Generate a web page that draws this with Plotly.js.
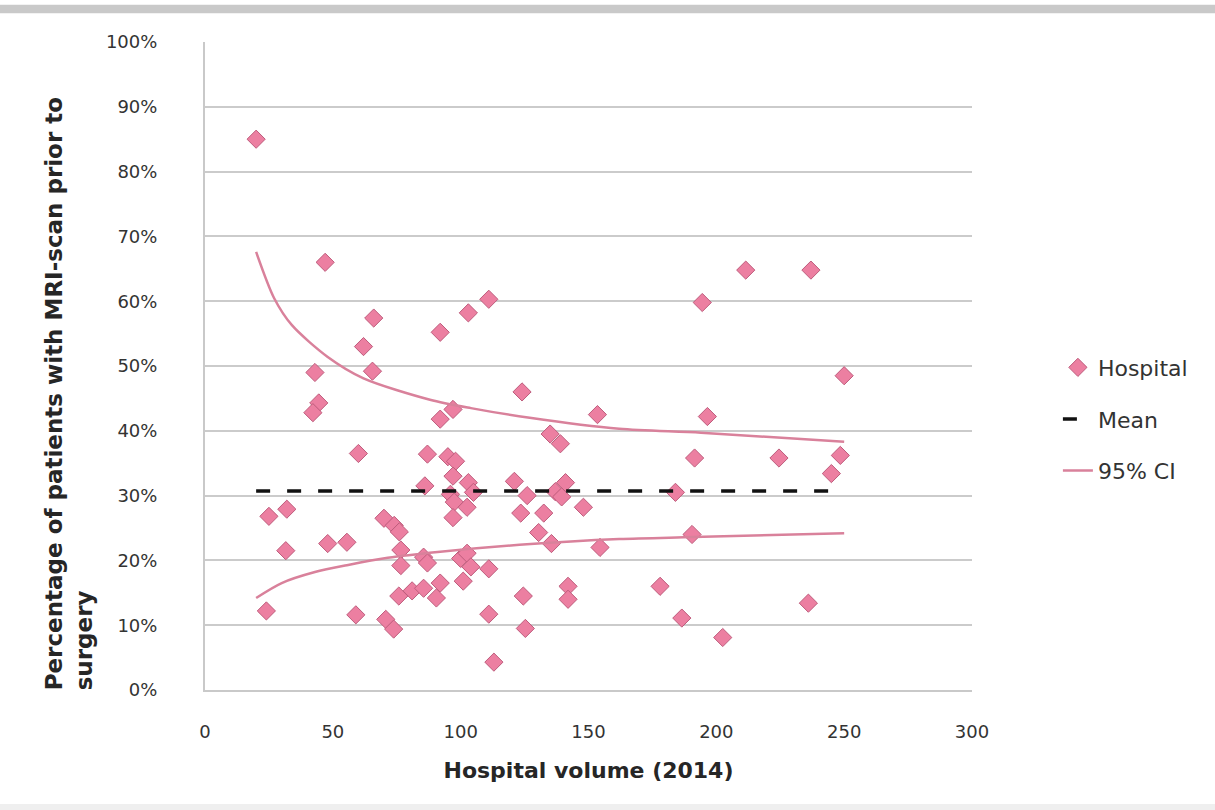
<!DOCTYPE html>
<html>
<head>
<meta charset="utf-8">
<script src="https://cdn.plot.ly/plotly-3.0.1.min.js"></script>
<style>html,body{margin:0;padding:0;background:#fff;}#chart{width:1215px;height:810px;}</style>
</head>
<body>
<div id="chart"></div>
<script>
// Hospital volume (2014) and % of patients with MRI-scan prior to surgery
const hospitalVolume = [20,47,66,62,43,65.5,44.5,42.2,60,92,103,111,124,97,92,135,139,153.5,87,95,98,86,97,103,105,96,97.5,102.5,97,121,126,137,141,139.5,148,123.5,132.5,130.5,135.5,154.5,25,32,31.6,48,55.5,24,59,70.7,73.8,70,74,76,76.6,76.6,75.8,81,85.5,92,90.5,85.5,87,100,102.5,104,101,111,111,113,124.5,125.3,142,142,178,186.5,202.5,236,184,190.5,191.5,196.5,224.5,248.5,245,250,194.5,211.5,237];
const mriPercent = [85,66,57.4,53,49,49.2,44.3,42.8,36.5,55.2,58.2,60.3,46,43.3,41.8,39.5,38,42.5,36.4,36,35.3,31.5,33,32,30.5,30.2,29,28.2,26.6,32.2,30,30.6,32,29.8,28.2,27.3,27.3,24.3,22.6,22,26.8,27.9,21.5,22.6,22.8,12.2,11.6,10.9,9.4,26.5,25.4,24.4,21.6,19.2,14.5,15.3,15.7,16.5,14.2,20.5,19.6,20.3,21.1,19,16.8,18.7,11.7,4.3,14.5,9.5,16,14,16,11.1,8.1,13.4,30.5,24,35.8,42.2,35.8,36.2,33.4,48.5,59.8,64.8,64.8];

const meanX = [20, 246];
const meanY = [30.7, 30.7];

const ciUpperX = [20,27,34,48,62,88,104,127,162,194,250];
const ciUpperY = [67.6,60.5,56.3,51.4,48.1,44.8,43.5,42.0,40.3,39.7,38.3];
const ciLowerX = [20,30,43,56,71.5,91,123,162,191,250];
const ciLowerY = [14.2,16.5,18.2,19.3,20.4,21.3,22.4,23.3,23.6,24.2];

const xTicks = [0,50,100,150,200,250,300];
const yTicks = [0,10,20,30,40,50,60,70,80,90,100];
const yTickText = yTicks.map(v => v + '%');
const xTitle = 'Hospital volume (2014)';
const yTitle = 'Percentage of patients with MRI-scan prior to<br>surgery';

const ciColor = '#D9819B';
const traces = [
  {x: hospitalVolume, y: mriPercent, type: 'scatter', mode: 'markers', name: 'Hospital',
   legendgroup: 'a',
   marker: {symbol: 'diamond', size: 14, color: '#EC7FA1', line: {color: '#BE5C7C', width: 1}}},
  {x: meanX, y: meanY, type: 'scatter', mode: 'lines', name: 'Mean', legendgroup: 'b',
   line: {color: '#111111', width: 3.5, dash: '14px,17px'}},
  {x: ciUpperX, y: ciUpperY, type: 'scatter', mode: 'lines', name: '95% CI', legendgroup: 'c',
   line: {color: ciColor, width: 2.5, shape: 'spline', smoothing: 0.8}},
  {x: ciLowerX, y: ciLowerY, type: 'scatter', mode: 'lines', name: '95% CI', legendgroup: 'c', showlegend: false,
   line: {color: ciColor, width: 2.5, shape: 'spline', smoothing: 0.8}}
];

const fontFam = '"DejaVu Sans", Arial, sans-serif';
const layout = {
  width: 1215, height: 810,
  margin: {l: 205, r: 243, t: 42, b: 120, pad: 0},
  paper_bgcolor: '#ffffff', plot_bgcolor: '#ffffff',
  font: {family: fontFam, size: 18, color: '#333333'},
  showlegend: true,
  legend: {x: 1.112, y: 0.53, xanchor: 'left', yanchor: 'top', traceorder: 'grouped',
           tracegroupgap: 20, font: {size: 22, color: '#333333'}, bgcolor: 'rgba(0,0,0,0)', itemwidth: 30},
  xaxis: {range: [0, 300], tickvals: xTicks, ticktext: xTicks.map(String), showgrid: false, zeroline: false,
          showline: true, linecolor: '#c9c9c9', linewidth: 2,
          ticks: 'outside', ticklen: 24, tickcolor: 'rgba(0,0,0,0)',
          tickfont: {size: 18, color: '#333333'},
          title: {text: '<b>' + xTitle + '</b>', font: {size: 22, color: '#262626'}, standoff: 22}},
  yaxis: {range: [0, 100], tickvals: yTicks, ticktext: yTickText, showgrid: true, gridcolor: '#cbcbcb', gridwidth: 2,
          zeroline: false, showline: true, linecolor: '#c9c9c9', linewidth: 2,
          ticks: 'outside', ticklen: 42, tickcolor: 'rgba(0,0,0,0)',
          tickfont: {size: 18, color: '#333333'}},
  annotations: [
    {text: '<b>' + yTitle + '</b>', xref: 'paper', yref: 'paper', x: -0.178, y: 0.457,
     xanchor: 'center', yanchor: 'middle', textangle: -90, align: 'left', showarrow: false,
     font: {size: 23, color: '#262626', family: fontFam}}
  ],
  shapes: [
    {type: 'rect', xref: 'paper', yref: 'paper', x0: -0.27, x1: 1.32, y0: 1.0445, y1: 1.0575,
     line: {width: 0}, fillcolor: '#c9c9c9', layer: 'above'},
    {type: 'rect', xref: 'paper', yref: 'paper', x0: -0.27, x1: 1.32, y0: -0.1852, y1: -0.1760,
     line: {width: 0}, fillcolor: '#efefef', layer: 'above'}
  ]
};

Plotly.newPlot('chart', traces, layout, {displayModeBar: false, staticPlot: true});
</script>
</body>
</html>
